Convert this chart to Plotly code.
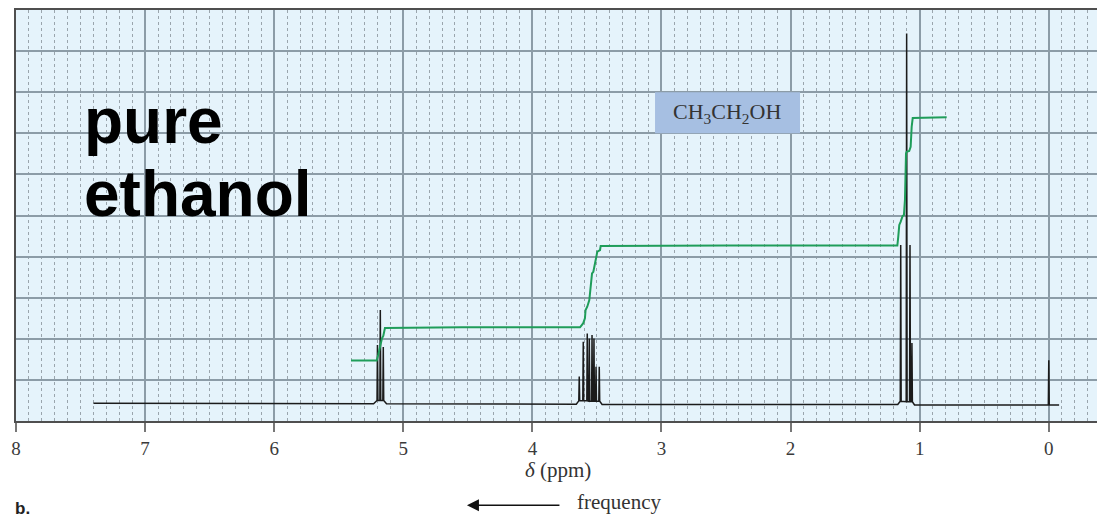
import plotly.graph_objects as go

# ---- 1H NMR spectrum of pure ethanol (chemical shift in ppm, arbitrary intensity) ----
baseline_ppm = [7.40, 5.23, 5.13, 3.66, 3.46, 1.17, 1.04, 0.02, -0.02, -0.08]
baseline_int = [0.43, 0.42, 0.42, 0.41, 0.40, 0.40, 0.39, 0.39, 0.39, 0.39]

peak_ppm = [5.200, 5.178, 5.155,
            3.637, 3.606, 3.575, 3.559, 3.538, 3.523, 3.507, 3.482,
            1.147, 1.101, 1.075, 1.060,
            0.000]
peak_int = [1.85, 2.70, 1.80,
            1.08, 1.93, 2.13, 2.01, 2.09, 2.01, 1.32, 1.32,
            4.28, 9.43, 4.28, 1.90,
            1.48]

# ---- integral trace ----
integral_ppm = [5.405, 5.206, 5.194, 5.180, 5.175, 5.165, 5.155, 5.147, 5.142, 4.55,
                3.631, 3.606, 3.593, 3.588, 3.575, 3.559, 3.548, 3.538, 3.528, 3.515,
                3.507, 3.497, 3.476, 3.471, 2.50,
                1.173, 1.166, 1.158, 1.147, 1.139, 1.132, 1.122, 1.114, 1.106, 1.101,
                1.081, 1.070, 1.062, 1.054, 0.791]
integral_val = [1.47, 1.47, 1.61, 1.81, 1.93, 2.01, 2.07, 2.21, 2.26, 2.28,
                2.28, 2.38, 2.50, 2.70, 2.78, 2.94, 3.35, 3.59, 3.63, 3.84,
                4.04, 4.12, 4.16, 4.26, 4.27,
                4.27, 4.48, 4.77, 4.85, 4.93, 4.99, 5.01, 5.38, 6.51, 6.55,
                6.57, 6.67, 7.16, 7.37, 7.39]

x_ticks = [0, 1, 2, 3, 4, 5, 6, 7, 8]


def nearest_base(p):
    i = min(range(len(baseline_ppm)), key=lambda k: abs(baseline_ppm[k] - p))
    return baseline_int[i]


# build the spectrum polyline: baseline knots plus a narrow spike for each line;
# lines inside a multiplet sit on a slightly raised foot
HALF_W = 0.0035
pts = list(zip(baseline_ppm, baseline_int))
for c, h in zip(peak_ppm, peak_int):
    in_multiplet = any(0 < abs(c - o) < 0.05 for o in peak_ppm)
    foot = nearest_base(c) + (0.08 if in_multiplet else 0.0)
    pts += [(c + HALF_W, foot), (c, h), (c - HALF_W, foot)]
pts.sort(key=lambda t: -t[0])
spec_x = [p for p, _ in pts]
spec_y = [v for _, v in pts]

fig = go.Figure()
fig.add_trace(go.Scatter(x=spec_x, y=spec_y, mode="lines",
                         line=dict(color="#1b1b1b", width=1.5), hoverinfo="skip"))
fig.add_trace(go.Scatter(x=integral_ppm, y=integral_val, mode="lines",
                         line=dict(color="#1f9d5a", width=2), hoverinfo="skip"))

serif = "Liberation Serif, Times New Roman, serif"
sans = "Liberation Sans, Arial, sans-serif"

# formula label box
fig.add_shape(type="rect", xref="x", yref="y", x0=3.05, x1=1.927, y0=7.0, y1=8.0,
              fillcolor="#a6bfe2", line=dict(width=0), layer="above")
fig.add_annotation(x=2.49, y=7.5, xref="x", yref="y",
                   text="CH<sub>3</sub>CH<sub>2</sub>OH", showarrow=False,
                   font=dict(family=serif, size=22, color="#333333"))

# sample label
fig.add_annotation(x=7.49, y=(421 - 121) / 41.1, xref="x", yref="y", xanchor="left",
                   yanchor="middle", text="<b>pure</b>", showarrow=False,
                   font=dict(family=sans, size=64, color="#000000"))
fig.add_annotation(x=7.49, y=(421 - 194) / 41.1, xref="x", yref="y", xanchor="left",
                   yanchor="middle", text="<b>ethanol</b>", showarrow=False,
                   font=dict(family=sans, size=64, color="#000000"))

# axis title and frequency arrow below the plot
fig.add_annotation(x=3.80, y=-0.154, xref="x", yref="paper", text="<i>δ</i> (ppm)",
                   showarrow=False, font=dict(family=serif, size=21, color="#333333"))
fig.add_annotation(x=3.33, y=-0.232, xref="x", yref="paper", text="frequency",
                   showarrow=False, font=dict(family=serif, size=21, color="#333333"))
fig.add_annotation(x=4.507, y=-0.205, xref="x", yref="paper", text="",
                   ax=94, ay=0, showarrow=True, arrowhead=2, arrowsize=1.6,
                   arrowwidth=1.5, arrowcolor="#111111")
fig.add_annotation(x=-0.003, y=-0.242, xref="paper", yref="paper", xanchor="left",
                   text="<b>b.</b>", showarrow=False,
                   font=dict(family=sans, size=17, color="#222222"))

fig.update_layout(
    width=1097, height=518,
    margin=dict(l=16, r=0, t=10, b=97),
    paper_bgcolor="white", plot_bgcolor="#e5f3fb",
    showlegend=False,
    xaxis=dict(range=[8, -0.3735], tickvals=x_ticks, ticktext=[str(t) for t in x_ticks],
               showgrid=True, gridcolor="#8c9ca7", gridwidth=1.5,
               showline=True, linecolor="#4f4f4f", linewidth=2, mirror=True,
               ticks="outside", ticklen=9, tickwidth=1.5, tickcolor="#777777",
               tickfont=dict(family=serif, size=19, color="#3a3a3a"),
               minor=dict(dtick=0.1, tick0=0, showgrid=True, gridcolor="#9aa5ad",
                          gridwidth=1, griddash="3px,3px", ticks=""),
               zeroline=False, fixedrange=True),
    yaxis=dict(range=[0, 10], dtick=1, tick0=0, showticklabels=False,
               showgrid=True, gridcolor="#8c9ca7", gridwidth=1.5,
               showline=True, linecolor="#4f4f4f", linewidth=2,
               zeroline=False, fixedrange=True),
)

fig.write_html("out.html")
